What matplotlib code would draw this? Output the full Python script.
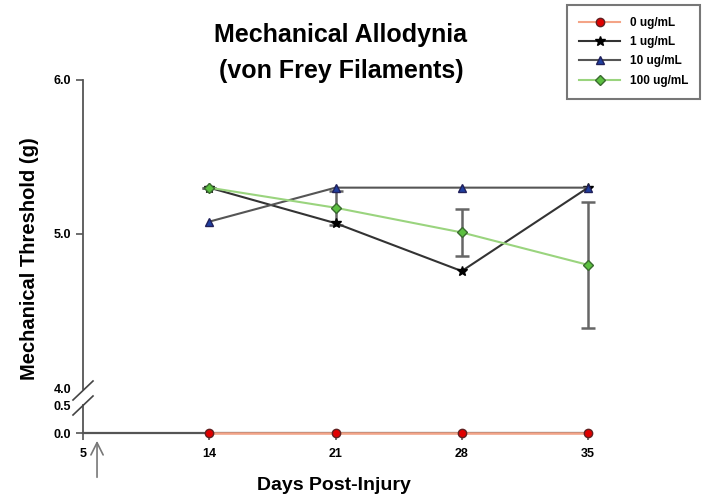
import numpy as np
import matplotlib
matplotlib.use("Agg")
import matplotlib.pyplot as plt
from matplotlib.lines import Line2D

plt.rcParams['font.family'] = ['Liberation Sans', 'DejaVu Sans']
plt.rcParams['font.weight'] = 'bold'

# data
days = [5, 14, 21, 28, 35]
pos = np.arange(len(days))          # ticks are evenly spaced on the chart
data_days = [14, 21, 28, 35]
labels = ['0 ug/mL', '1 ug/mL', '10 ug/mL', '100 ug/mL']
vals_0 = [0.0, 0.0, 0.0, 0.0]
vals_1 = [5.30, 5.07, 4.76, 5.30]
vals_10 = [5.08, 5.30, 5.30, 5.30]
vals_100 = [5.30, 5.17, 5.01, 4.80]
err_100 = [0.0, 0.11, 0.15, 0.41]
injury_day = 6

xp = [days.index(d) for d in data_days]
arrow_x = (injury_day - days[0]) / (days[1] - days[0])

fig = plt.figure(figsize=(7.05, 4.96), dpi=100)
L, W = 83 / 705, (588 - 83) / 705
ax = fig.add_axes([L, 1 - 388.5 / 496, W, 309 / 496])
axb = fig.add_axes([L, 1 - 433 / 496, W, 28 / 496])

styles = [
    dict(color='#f4a487', marker='o', mfc='#e00000', mec='#602020', ms=6),
    dict(color='#333333', marker='*', mfc='black', mec='black', ms=7),
    dict(color='#555555', marker='^', mfc='#1f3fa0', mec='#20205a', ms=6),
    dict(color='#9ad47e', marker='D', mfc='#5cc040', mec='#3a6a30', ms=5),
]

# zero dose lives on the lower (broken) axis, the rest on the upper one
axb.plot(xp, vals_0, lw=1.8, clip_on=False, zorder=3, **styles[0])
ax.errorbar(xp, vals_100, yerr=err_100, fmt='none', ecolor='#666666',
            elinewidth=1.8, capsize=5, capthick=1.8, zorder=2, clip_on=False)
for s, st in zip([vals_1, vals_10, vals_100], styles[1:]):
    ax.plot(xp, s, lw=1.5, clip_on=False, zorder=3, **st)

for a in (ax, axb):
    a.set_xlim(0, 4)
    for sp in ('top', 'right'):
        a.spines[sp].set_visible(False)
    a.spines['left'].set_color('#555555')
    a.spines['left'].set_linewidth(1.3)
    a.tick_params(axis='y', length=5, width=1.2, color='#555555', labelsize=9)

ax.set_ylim(4, 6)
ax.set_yticks([4, 5, 6])
ax.set_yticklabels(['4.0', '5.0', '6.0'])
ax.yaxis.get_major_ticks()[0].tick1line.set_visible(False)
ax.spines['bottom'].set_visible(False)
ax.set_xticks([])

axb.set_ylim(0, 0.5)
axb.set_yticks([0, 0.5])
axb.set_yticklabels(['0.0', '0.5'])
axb.yaxis.get_major_ticks()[1].tick1line.set_visible(False)
axb.spines['bottom'].set_color('#555555')
axb.spines['bottom'].set_linewidth(1.6)
axb.set_xticks(pos)
axb.set_xticklabels([str(d) for d in days])
axb.tick_params(axis='x', length=5, width=1.2, color='#555555', labelsize=9, pad=6)

# axis break marks
for y0 in (400, 415):
    fig.add_artist(Line2D([73 / 705, 93 / 705], [1 - y0 / 496, 1 - (y0 - 19) / 496],
                          color='#444444', lw=1.2))

# injury arrow
axb.annotate('', xy=(arrow_x, -0.18), xycoords=('data', 'axes fraction'),
             xytext=(arrow_x, -1.68), textcoords=('data', 'axes fraction'),
             arrowprops=dict(arrowstyle='->', color='#777777', lw=1.2,
                             mutation_scale=22))

fig.text(341 / 705, 1 - 53 / 496, 'Mechanical Allodynia\n(von Frey Filaments)',
         ha='center', va='center', fontsize=18, fontweight='bold', linespacing=1.6)
fig.text(30 / 705, 1 - 259 / 496, 'Mechanical Threshold (g)', rotation=90,
         ha='center', va='center', fontsize=14.5, fontweight='bold')
fig.text(334 / 705, 1 - 486 / 496, 'Days Post-Injury', ha='center', va='center',
         fontsize=14, fontweight='bold')

handles = [Line2D([], [], lw=1.5, **st) for st in styles]
leg = fig.legend(handles, labels, loc='upper right',
                 bbox_to_anchor=(700 / 705, 1 - 5 / 496),
                 fontsize=8.5, frameon=True, fancybox=False, handlelength=3.5,
                 borderpad=1.0, labelspacing=0.62, handletextpad=0.8,
                 borderaxespad=0)
leg.get_frame().set_edgecolor('#555555')
leg.get_frame().set_linewidth(1.5)

fig.savefig('out.png', dpi=100)
